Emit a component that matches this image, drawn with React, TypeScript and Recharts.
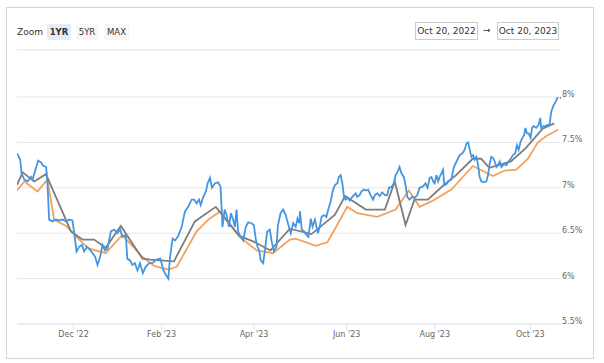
import React from 'react'
import { LineChart, Line, XAxis, YAxis, CartesianGrid } from 'recharts'

// trading-day index (0 = Oct 20 '22) and rate in %
const dailyRate: [number, number][] = [
  [0, 7.38], [1.5, 7.31], [2.1, 7.16], [3.4, 7.09], [4.9, 7.07], [6.5, 7.12], [7.2, 7.09], [8.3, 7.18],
  [9.8, 7.3], [11.1, 7.28], [12.3, 7.24], [13.5, 7.23], [14.1, 7.05], [14.9, 6.65], [16.5, 6.63], [18, 6.65],
  [19.6, 6.64], [21.1, 6.65], [22.7, 6.63], [24.2, 6.65], [25.7, 6.64], [26.5, 6.5], [27.6, 6.3], [28.8, 6.35],
  [30.1, 6.37], [31.1, 6.3], [32.4, 6.35], [33.4, 6.33], [35, 6.28], [36.2, 6.24], [37.3, 6.15], [38.5, 6.24],
  [39.6, 6.37], [40.7, 6.31], [41.9, 6.33], [43.5, 6.52], [45, 6.54], [46.5, 6.5], [47.8, 6.54], [48.8, 6.46],
  [50.4, 6.48], [51.1, 6.22], [52.4, 6.2], [53.4, 6.15], [54.6, 6.17], [55.8, 6.09], [57, 6.17], [58.3, 6.06],
  [59.6, 6.13], [61.2, 6.17], [62.7, 6.17], [64.7, 6.21], [66.3, 6.22], [67, 6.17], [67.8, 6.09], [69, 6.04],
  [70.1, 6.0], [70.9, 6.24], [72.1, 6.44], [73.2, 6.42], [74.7, 6.47], [76.3, 6.57], [77.8, 6.74], [79.3, 6.79],
  [80.9, 6.87], [82.1, 6.87], [83.2, 6.83], [84.3, 6.87], [85.1, 6.81], [86.3, 6.9], [87.5, 6.96], [88.3, 7.05],
  [89.4, 7.11], [90.3, 7.0], [91.7, 7.05], [93.2, 7.06], [94.3, 7.01], [95.2, 6.57], [96.2, 6.76], [97.1, 6.7],
  [98.2, 6.57], [99.1, 6.72], [100.1, 6.65], [100.9, 6.57], [101.7, 6.76], [102.4, 6.52], [103.6, 6.46], [104.8, 6.42],
  [106, 6.57], [107.1, 6.62], [108.6, 6.61], [109.7, 6.59], [110.6, 6.44], [111.4, 6.35], [112.2, 6.31], [112.9, 6.2],
  [114, 6.17], [114.8, 6.3], [115.9, 6.52], [117.1, 6.54], [117.9, 6.42], [119, 6.3], [120.2, 6.35], [120.9, 6.59],
  [122.1, 6.72], [123.3, 6.76], [124.5, 6.7], [125.6, 6.6], [126.8, 6.5], [127.9, 6.61], [129.1, 6.57], [129.9, 6.66],
  [130.7, 6.61], [131.1, 6.74], [131.9, 6.54], [133, 6.52], [134.1, 6.48], [135, 6.46], [136.1, 6.66], [136.9, 6.57],
  [138, 6.65], [139.4, 6.5], [140.2, 6.57], [141.1, 6.68], [142.2, 6.7], [143.3, 6.68], [144.2, 6.76], [145.3, 6.85],
  [146.4, 6.98], [147.3, 7.03], [148.4, 7.05], [149.1, 7.12], [149.9, 7.14], [150.7, 7.05], [151.5, 6.9], [152.2, 6.87],
  [153.3, 6.89], [154.1, 6.86], [155, 6.89], [156.1, 6.92], [156.9, 6.94], [157.6, 6.9], [158.7, 6.92], [159.6, 6.96],
  [160.7, 6.98], [161.8, 6.97], [162.7, 6.98], [163.8, 6.92], [164.9, 6.87], [165.8, 6.92], [166.9, 6.94], [168, 6.91],
  [169.2, 6.95], [170.4, 6.92], [171.5, 6.92], [172.3, 7.0], [173.5, 7.01], [174.6, 7.05], [175.4, 7.14], [176.4, 7.18],
  [177.2, 7.23], [178.1, 7.16], [179.2, 7.12], [180, 7.03], [180.8, 6.9], [181.8, 6.87], [183.1, 6.9], [184.3, 6.89],
  [185.4, 6.92], [186.5, 7.0], [187.7, 7.01], [188.6, 7.03], [189.2, 7.05], [190.2, 7.0], [191.2, 7.11], [192, 7.12],
  [192.8, 7.07], [193.5, 7.05], [194.3, 7.14], [195.1, 7.07], [195.8, 7.12], [196.6, 7.16], [197.4, 7.2], [197.9, 7.03],
  [198.9, 7.04], [199.7, 7.07], [201.2, 7.09], [202.3, 7.22], [203.6, 7.29], [205.1, 7.36], [206.3, 7.38], [207.4, 7.42],
  [208.2, 7.49], [209, 7.5], [209.7, 7.42], [210.5, 7.34], [211.3, 7.36], [212, 7.31], [212.8, 7.34], [213.6, 7.25],
  [214.3, 7.12], [215.1, 7.07], [216.4, 7.06], [217.4, 7.07], [218.2, 7.14], [219, 7.27], [219.7, 7.34], [220.5, 7.33],
  [221.3, 7.29], [222.1, 7.23], [222.8, 7.25], [223.6, 7.29], [224.4, 7.23], [225.6, 7.26], [226.7, 7.25], [227.7, 7.29],
  [228.7, 7.32], [229.8, 7.36], [230.8, 7.38], [231.6, 7.47], [232.4, 7.42], [233.3, 7.51], [234.1, 7.55], [234.9, 7.58],
  [235.5, 7.66], [236.2, 7.6], [237, 7.6], [237.9, 7.55], [238.6, 7.66], [239.3, 7.68], [240.5, 7.66], [241.6, 7.69],
  [242.4, 7.77], [242.8, 7.66], [243.8, 7.68], [244.7, 7.68], [245.7, 7.69], [246.7, 7.7], [247.5, 7.84], [248.6, 7.91],
  [249.8, 7.96], [250.9, 8.03], [251.5, 8.03], [252, 7.98],
]

const avgGrey: [number, number][] = [
  [0, 7.03], [2.6, 7.17], [8, 7.07], [13.4, 7.15], [25, 6.52], [30.3, 6.43], [35.7, 6.43], [41.1, 6.34],
  [48.1, 6.58], [58.1, 6.22], [61.6, 6.21], [72.7, 6.19], [82.4, 6.63], [92.1, 6.79], [102.9, 6.47], [109.4, 6.41],
  [117.4, 6.31], [126.4, 6.55], [136.4, 6.49], [147.2, 6.7], [152, 6.91], [161.6, 6.76], [170.4, 6.76], [175, 7.07],
  [180, 6.59], [184.1, 6.87], [190.3, 6.87], [197.2, 7.02], [203.4, 7.14], [211.1, 7.32], [215, 7.32], [218.8, 7.22],
  [228.8, 7.29], [235.8, 7.44], [243.5, 7.65], [248.9, 7.71],
]

const avgOrange: [number, number][] = [
  [0, 6.97], [3.4, 7.07], [9.5, 6.96], [14.1, 7.09], [17.2, 6.65], [22.7, 6.58], [29.6, 6.41], [33.4, 6.33],
  [41.1, 6.28], [48.8, 6.48], [58.1, 6.24], [63.5, 6.14], [70.1, 6.1], [74, 6.13], [83.2, 6.52], [88.6, 6.65],
  [94, 6.74], [103.2, 6.46], [111, 6.31], [118.6, 6.28], [126.4, 6.43], [129.1, 6.44], [138.4, 6.36], [143.8, 6.4],
  [153, 6.79], [157.6, 6.72], [166.9, 6.68], [175.4, 6.76], [181.5, 6.97], [186.5, 6.79], [192, 6.85], [201.2, 6.98],
  [211.2, 7.24], [220.5, 7.13], [225.9, 7.19], [231.3, 7.2], [236.7, 7.32], [241.3, 7.5], [245.2, 7.57], [250.6, 7.64],
]

const monthTicks = [26.2, 67, 109.8, 152.7, 193.5, 237.8]
const monthLabels = ["Dec '22", "Feb '23", "Apr '23", "Jun '23", "Aug '23", "Oct '23"]
const rateTicks = [5.5, 6, 6.5, 7, 7.5, 8]

const toRows = (pts: [number, number][]) => pts.map(([d, v]) => ({ d, v }))

const font = '"DejaVu Sans", Verdana, sans-serif'

function RateTick({ x, y, payload }: any) {
  return (
    <text x={x} y={y} fill="#666" fontSize={8} fontFamily={font} textAnchor="start">
      {payload.value}%
    </text>
  )
}

const btn = (active: boolean): React.CSSProperties => ({
  position: 'absolute',
  top: 24,
  height: 16,
  lineHeight: '16px',
  fontSize: 8.5,
  textAlign: 'center',
  color: '#333',
  fontWeight: active ? 700 : 400,
  background: active ? '#e6ebf5' : '#f7f7f7',
  borderRadius: 2,
})

const dateBox: React.CSSProperties = {
  position: 'absolute',
  top: 22,
  height: 18,
  lineHeight: '17px',
  boxSizing: 'border-box',
  border: '1px solid #ccc',
  fontSize: 9,
  color: '#333',
  textAlign: 'center',
}

export default function App() {
  return (
    <div style={{ position: 'absolute', left: 0, top: 0, width: 604, height: 363, background: '#fff', fontFamily: font }}>
      <div style={{ position: 'absolute', left: 6, top: 7, width: 588, height: 352, boxSizing: 'border-box', border: '1px solid #d4d4d4' }} />

      <div style={{ position: 'absolute', left: 17, top: 24, height: 16, lineHeight: '16px', fontSize: 9, color: '#333' }}>Zoom</div>
      <div style={{ ...btn(true), left: 47, width: 24 }}>1YR</div>
      <div style={{ ...btn(false), left: 76, width: 22 }}>5YR</div>
      <div style={{ ...btn(false), left: 104, width: 25 }}>MAX</div>

      <div style={{ ...dateBox, left: 415, width: 63 }}>Oct 20, 2022</div>
      <div style={{ position: 'absolute', left: 483, top: 22, height: 18, lineHeight: '17px', fontSize: 9, color: '#333' }}>→</div>
      <div style={{ ...dateBox, left: 497, width: 62 }}>Oct 20, 2023</div>

      <div style={{ position: 'absolute', left: 17, top: 49, width: 544, height: 2, background: '#f0f0f0' }} />

      <div style={{ position: 'absolute', left: 0, top: 0 }}>
        <LineChart width={599} height={354} margin={{ top: 97, right: 0, bottom: 0, left: 17 }}>
          <CartesianGrid vertical={false} stroke="#e6e6e6" />
          <XAxis
            dataKey="d"
            type="number"
            domain={[0, 252]}
            ticks={monthTicks}
            tickFormatter={(t: number) => monthLabels[monthTicks.indexOf(t)] ?? ''}
            height={30}
            stroke="#dfe5ee"
            tickSize={6}
            tickMargin={1}
            tick={{ fill: '#666', fontSize: 8, fontFamily: font }}
            allowDataOverflow
          />
          <YAxis
            orientation="right"
            type="number"
            domain={[5.5, 8]}
            ticks={rateTicks}
            width={38}
            axisLine={false}
            tickLine={false}
            tickSize={0}
            tickMargin={1}
            tick={<RateTick />}
            allowDataOverflow
          />
          <Line data={toRows(avgOrange)} dataKey="v" stroke="#f2a25c" strokeWidth={1.8} dot={false} isAnimationActive={false} />
          <Line data={toRows(avgGrey)} dataKey="v" stroke="#7d7d7d" strokeWidth={1.8} dot={false} isAnimationActive={false} />
          <Line data={toRows(dailyRate)} dataKey="v" stroke="#4596e2" strokeWidth={1.8} dot={false} isAnimationActive={false} />
        </LineChart>
      </div>
    </div>
  )
}
